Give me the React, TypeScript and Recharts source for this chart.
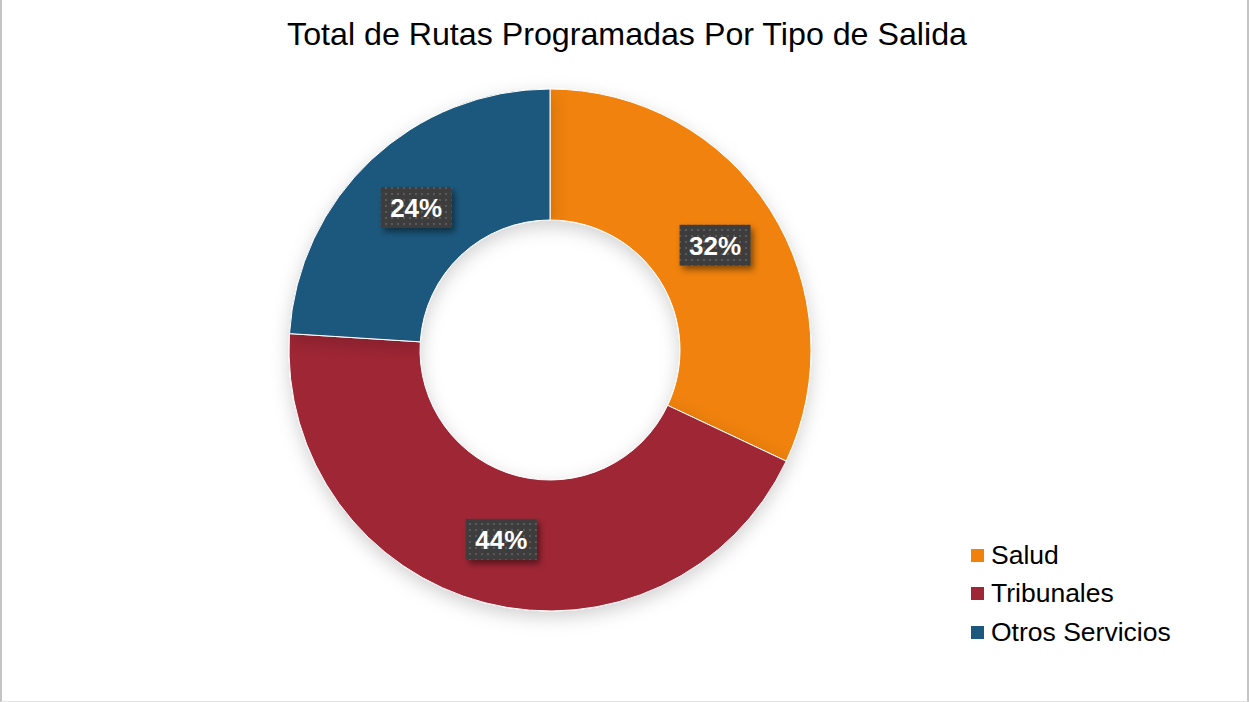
import React from "react";
import { PieChart, Pie, Cell, Legend } from "recharts";

const categories = ["Salud", "Tribunales", "Otros Servicios"];
const values = [32, 44, 24];
const colors = ["#F0820B", "#9F2636", "#1C587D"];

const data = categories.map((name, i) => ({ name, value: values[i] }));
const total = values.reduce((a, b) => a + b, 0);

const RADIAN = Math.PI / 180;

const renderLabel = (props: any) => {
  const { cx, cy, midAngle, innerRadius, outerRadius, value, index } = props;
  const r = (innerRadius + outerRadius) / 2;
  const x = cx + r * Math.cos(-midAngle * RADIAN);
  const y = cy + r * Math.sin(-midAngle * RADIAN);
  const pct = Math.round((value / total) * 100) + "%";
  const w = 71;
  const h = 41;
  return (
    <g key={"lbl" + index}>
      <defs>
        <pattern id={"dots" + index} width="6" height="6" patternUnits="userSpaceOnUse">
          <rect width="6" height="6" fill="#3e3e3e" />
          <rect x="1" y="1" width="2" height="2" fill="#5a5a5a" />
        </pattern>
        <filter id={"sh" + index} x="-30%" y="-30%" width="160%" height="180%">
          <feDropShadow dx="3" dy="4" stdDeviation="3" floodColor="#000" floodOpacity="0.45" />
        </filter>
      </defs>
      <rect
        x={x - w / 2}
        y={y - h / 2}
        width={w}
        height={h}
        fill={"url(#dots" + index + ")"}
        filter={"url(#sh" + index + ")"}
      />
      <text
        x={x}
        y={y + 1}
        textAnchor="middle"
        dominantBaseline="central"
        fill="#ffffff"
        fontFamily="'Liberation Sans', Arial, sans-serif"
        fontWeight="bold"
        fontSize={26}
      >
        {pct}
      </text>
    </g>
  );
};

const renderLegend = () => (
  <div style={{ fontFamily: "'Liberation Sans', Arial, sans-serif" }}>
    {categories.map((c, i) => (
      <div key={c} style={{ display: "flex", alignItems: "center", height: 38.5 }}>
        <div style={{ width: 13, height: 13, background: colors[i], marginRight: 7 }} />
        <span style={{ fontSize: 26.5, color: "#000" }}>{c}</span>
      </div>
    ))}
  </div>
);

export default function App() {
  return (
    <div
      style={{
        position: "absolute",
        left: 0,
        top: 0,
        width: 1249,
        height: 702,
        background: "#fff",
        boxSizing: "border-box",
        borderLeft: "2px solid #c4c4c4",
        borderRight: "2px solid #c4c4c4",
        borderBottom: "1px solid #e4e4e4",
        overflow: "hidden",
      }}
    >
      <div
        style={{
          position: "absolute",
          left: -2,
          width: 1254,
          top: 16,
          textAlign: "center",
          fontFamily: "'Liberation Sans', Arial, sans-serif",
          fontSize: 32.2,
          color: "#000",
        }}
      >
        Total de Rutas Programadas Por Tipo de Salida
      </div>
      <div style={{ position: "absolute", left: -2, top: 0 }}>
        <PieChart width={1249} height={702} margin={{ top: 0, right: 0, bottom: 0, left: 0 }}>
          <defs>
            <filter id="pieShadow" x="-20%" y="-20%" width="140%" height="140%">
              <feDropShadow dx="0" dy="6" stdDeviation="9" floodColor="#000" floodOpacity="0.18" />
            </filter>
          </defs>
          <Pie
            data={data}
            dataKey="value"
            nameKey="name"
            cx={550}
            cy={350}
            innerRadius={130}
            outerRadius={261}
            startAngle={90}
            endAngle={-270}
            stroke="#ffffff"
            strokeWidth={1}
            label={renderLabel}
            labelLine={false}
            isAnimationActive={false}
            style={{ filter: "url(#pieShadow)" }}
          >
            {data.map((d, i) => (
              <Cell key={d.name} fill={colors[i]} />
            ))}
          </Pie>
          <Legend
            content={renderLegend}
            layout="vertical"
            wrapperStyle={{ position: "absolute", left: 971, top: 536, width: 275 }}
          />
        </PieChart>
      </div>
    </div>
  );
}
